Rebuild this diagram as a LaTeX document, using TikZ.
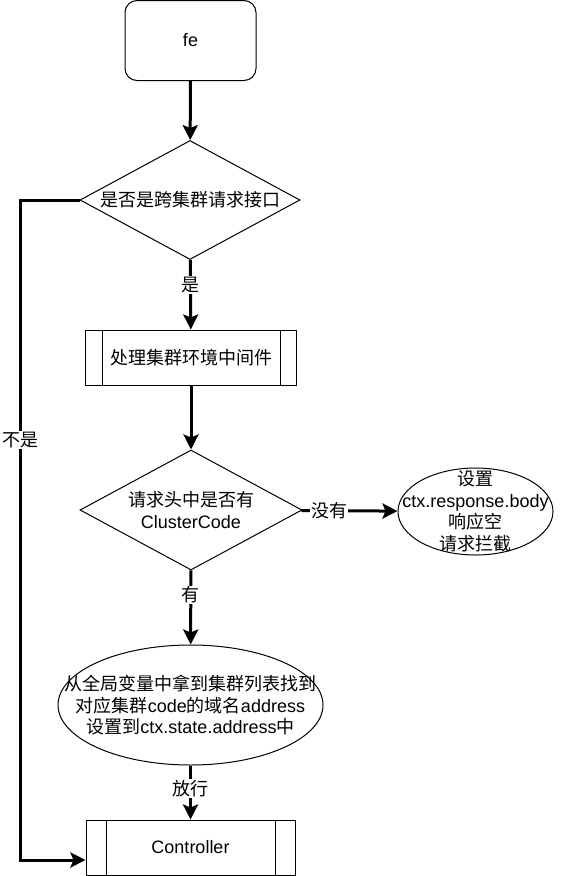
\documentclass[tikz,border=0pt]{standalone}
\usepackage{fontspec}
\setmainfont{Liberation Sans}
\newfontfamily\cjk{Noto Sans CJK SC}
\usepackage{tikz}
\usetikzlibrary{shapes.geometric,arrows.meta}

\begin{document}
\begin{tikzpicture}[x=1pt, y=-1pt,
    font=\fontsize{18}{21.5}\selectfont,
    box/.style={draw, line width=1pt, rounded corners=12pt, minimum width=131pt, minimum height=80pt},
    dec/.style={draw, line width=1pt, diamond, inner sep=0pt, align=center, aspect=1.85},
    proc/.style={draw, line width=1pt, minimum height=55pt, inner sep=0pt},
    oval/.style={draw, line width=1pt, ellipse, inner sep=0pt},
    flow/.style={line width=3pt, -{Stealth[length=15pt, width=15pt, inset=3pt]}},
    lbl/.style={fill=white, inner sep=1pt}]
    \useasboundingbox (0,0) rectangle (567,876);

    % Nodes
    \node[box] (fe) at (190.5,40.5) {fe};
    \node[dec, minimum width=220pt, minimum height=119pt] (cross) at (190,200) {\cjk 是否是跨集群请求接口};
    \node[proc, minimum width=211pt] (mid) at (191,357.5) {\cjk 处理集群环境中间件};
    \node[dec, minimum width=222pt, minimum height=120pt] (code) at (191,510) {\cjk 请求头中是否有\\ClusterCode};
    \node[oval, minimum width=155pt, minimum height=87pt,
        label={[align=center]center:{\cjk 设置}\\ctx.response.body\\{\cjk 响应空}\\{\cjk 请求拦截}}] (stop) at (475.5,511.5) {};
    \node[oval, minimum width=265pt, minimum height=120pt,
        label={[align=center]center:{\cjk 从全局变量中拿到集群列表找到}\\{\cjk 对应集群}code{\cjk 的域名}address\\{\cjk 设置到}ctx.state.address{\cjk 中}}] (addr) at (190.5,705) {};
    \node[proc, minimum width=209pt] (ctl) at (190.5,847.5) {Controller};

    % Process side bars
    \draw[line width=1pt] ([xshift=17pt]mid.north west) -- ([xshift=17pt]mid.south west);
    \draw[line width=1pt] ([xshift=-17pt]mid.north east) -- ([xshift=-17pt]mid.south east);
    \draw[line width=1pt] ([xshift=21pt]ctl.north west) -- ([xshift=21pt]ctl.south west);
    \draw[line width=1pt] ([xshift=-20pt]ctl.north east) -- ([xshift=-20pt]ctl.south east);

    % Connectors
    \draw[flow] (fe) -- (cross);
    \draw[flow] (cross) -- node[lbl, pos=0.36] {\cjk 是} (mid);
    \draw[flow] (mid) -- (code);
    \draw[flow] (code) -- node[lbl, pos=0.29] {\cjk 没有} (stop);
    \draw[flow] (code) -- node[lbl, pos=0.33] {\cjk 有} (addr);
    \draw[flow] (addr) -- node[lbl, pos=0.42] {\cjk 放行} (ctl);

    % Skip branch
    \coordinate (skip) at (20,200);
    \draw[flow] (cross.west) -- (skip) |- ([yshift=-12.5pt]ctl.west);
    \node[lbl] (no) at (20,440) {\cjk 不是};
\end{tikzpicture}
\end{document}
